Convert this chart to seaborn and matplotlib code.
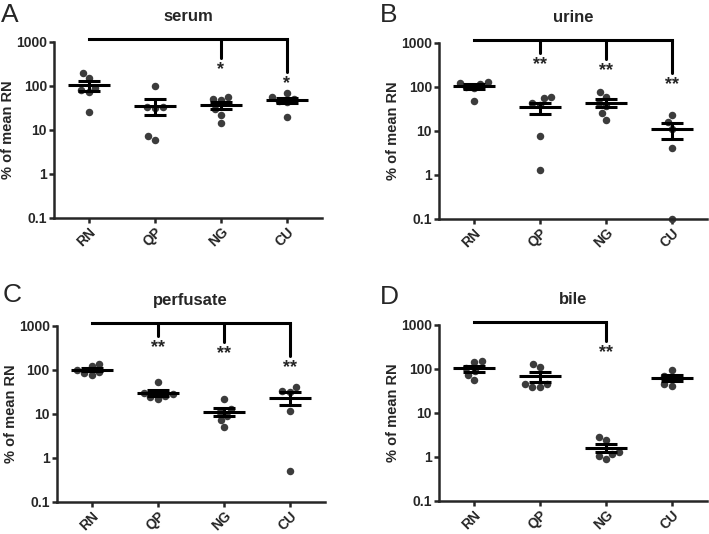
import numpy as np
import pandas as pd
import matplotlib
matplotlib.use("Agg")
import matplotlib.pyplot as plt
import seaborn as sns

sns.set_style("ticks")
plt.rcParams['font.family'] = ['Liberation Sans', 'DejaVu Sans']
plt.rcParams['font.weight'] = 'bold'

groups = ['RN', 'QP', 'NG', 'CU']

# % of mean RN
serum_rn = [197, 152, 90, 72, 78, 25]
serum_qp = [100, 33, 32, 33, 7.4, 6.0]
serum_ng = [56, 51, 48, 29, 22, 14]
serum_cu = [54, 45, 50, 67, 43, 20]

urine_rn = [130, 125, 118, 100, 95, 47]
urine_qp = [43, 55, 58, 39, 7.5, 1.3]
urine_ng = [60, 78, 37, 25, 18, 43]
urine_cu = [23, 15.5, 11, 4.1, 0.1]

perf_rn = [125, 135, 75, 100, 88, 85]
perf_qp = [53, 24, 22, 28, 30, 26]
perf_ng = [21.7, 9.1, 12.7, 7.3, 5.1, 11]
perf_cu = [40, 33.5, 30.8, 11.8, 0.5]

bile_rn = [140, 150, 55, 105, 72, 88]
bile_qp = [108, 128, 38, 45, 38, 45]
bile_ng = [2.4, 2.8, 1.27, 0.9, 1.07, 1.17]
bile_cu = [95, 70, 62, 41, 45]

# significant comparisons vs RN
serum_sig = ['NG', 'CU']
serum_stars = ['*', '*']
urine_sig = ['QP', 'NG', 'CU']
urine_stars = ['**', '**', '**']
perf_sig = ['QP', 'NG', 'CU']
perf_stars = ['**', '**', '**']
bile_sig = ['NG']
bile_stars = ['**']

panels = [
    ('A', 'serum', [serum_rn, serum_qp, serum_ng, serum_cu], serum_sig, serum_stars),
    ('B', 'urine', [urine_rn, urine_qp, urine_ng, urine_cu], urine_sig, urine_stars),
    ('C', 'perfusate', [perf_rn, perf_qp, perf_ng, perf_cu], perf_sig, perf_stars),
    ('D', 'bile', [bile_rn, bile_qp, bile_ng, bile_cu], bile_sig, bile_stars),
]

# axes boxes in figure fractions and letter positions
boxes = [[0.076, 0.592, 0.378, 0.330], [0.619, 0.590, 0.378, 0.330],
         [0.080, 0.060, 0.378, 0.330], [0.619, 0.062, 0.378, 0.330]]
letters_xy = [(0.002, 0.995), (0.536, 0.995), (0.004, 0.470), (0.536, 0.466)]
# bracket drop depth (decades below top line) per target group
drop = {'QP': 0.29, 'NG': 0.42, 'CU': 0.75}

fig = plt.figure(figsize=(7.09, 5.34), dpi=100)

for (letter, title, vals, sig, stars), box, lxy in zip(panels, boxes, letters_xy):
    ax = fig.add_axes(box)
    df = pd.DataFrame({
        'group': np.concatenate([[g] * len(v) for g, v in zip(groups, vals)]),
        'value': np.concatenate(vals),
    })
    sns.swarmplot(data=df, x='group', y='value', order=groups, color='#3c3c3c',
                  size=5.4, ax=ax, log_scale=True, clip_on=False, zorder=2)

    stats = df.groupby('group')['value'].agg(['mean', 'sem']).reindex(groups)
    for i, g in enumerate(groups):
        m, s = stats.loc[g, 'mean'], stats.loc[g, 'sem']
        ax.hlines(m, i - 0.32, i + 0.32, color='black', lw=2.2, zorder=3)
        ax.vlines(i, m - s, m + s, color='black', lw=2.2, zorder=3)
        ax.hlines([m - s, m + s], i - 0.165, i + 0.165, color='black', lw=2.2, zorder=3)

    # significance bracket
    top = 10 ** 3.06
    last = max(groups.index(g) for g in sig)
    ax.plot([0, last], [top, top], color='black', lw=2.2, clip_on=False,
            solid_capstyle='projecting')
    for g, st in zip(sig, stars):
        i = groups.index(g)
        end = 10 ** (3.06 - drop[g])
        ax.plot([i, i], [top, end], color='black', lw=2.2, clip_on=False)
        ax.text(i, 10 ** (3.06 - drop[g] - 0.27), st, ha='center', va='center',
                fontsize=13, fontweight='bold')

    ax.set_yscale('log')
    ax.set_ylim(0.1, 1000)
    ax.set_xlim(-0.53, 3.53)
    ax.set_yticks([0.1, 1, 10, 100, 1000])
    ax.set_yticklabels(['0.1', '1', '10', '100', '1000'])
    ax.yaxis.set_minor_locator(matplotlib.ticker.NullLocator())
    ax.set_xticks(range(4))
    ax.set_xticklabels(groups, rotation=45, ha='right', rotation_mode='anchor')
    ax.tick_params(axis='both', labelsize=10, width=1.8, length=3.5, pad=1.5)
    for lab in ax.get_xticklabels() + ax.get_yticklabels():
        lab.set_fontweight('bold')
    ax.set_xlabel('')
    ax.set_ylabel('% of mean RN', fontsize=10.5, fontweight='bold')
    ax.yaxis.set_label_coords(-0.145, 0.5)
    ax.set_title(title, fontsize=12, fontweight='bold', pad=15)
    sns.despine(ax=ax)
    for sp in ['left', 'bottom']:
        ax.spines[sp].set_linewidth(1.8)

    fig.text(lxy[0], lxy[1], letter, fontsize=19, fontweight='normal', va='top', ha='left')

fig.savefig('out.png', dpi=100)
